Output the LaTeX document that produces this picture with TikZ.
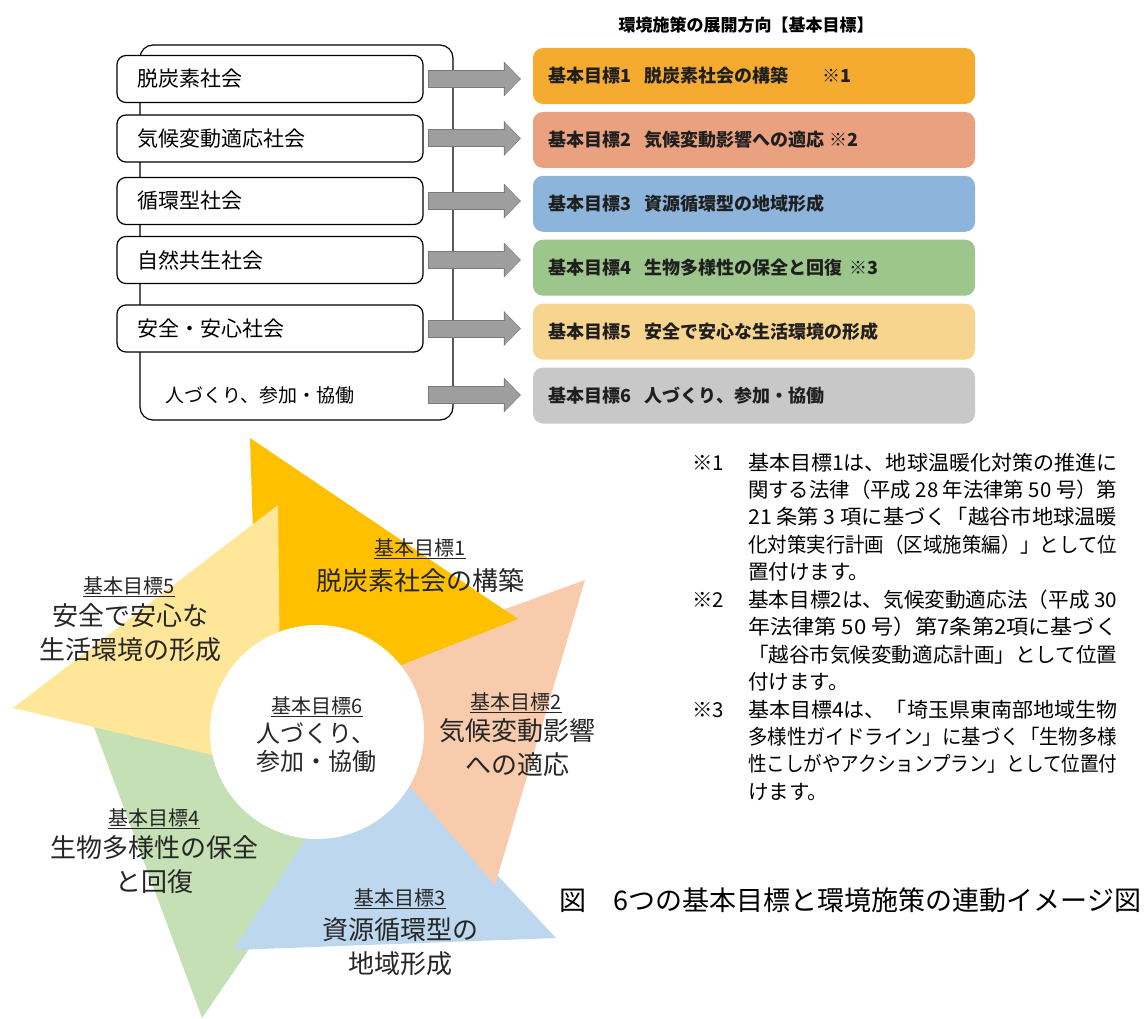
\documentclass[tikz,border=0pt]{standalone}
\usepackage{fontspec}
\setmainfont{Noto Sans CJK JP}
\usetikzlibrary{positioning,calc,arrows.meta}

\definecolor{carbon}{HTML}{F5AB30}
\definecolor{climate}{HTML}{E9A17F}
\definecolor{cycle}{HTML}{8DB4DA}
\definecolor{nature}{HTML}{9CC68B}
\definecolor{safety}{HTML}{F8D58F}
\definecolor{people}{HTML}{C8C8C8}
\definecolor{pcarbon}{HTML}{FFC000}
\definecolor{pclimate}{HTML}{F8CBAD}
\definecolor{pcycle}{HTML}{BDD7EE}
\definecolor{pnature}{HTML}{C5E0B4}
\definecolor{psafety}{HTML}{FFE699}
\definecolor{flowgray}{HTML}{9E9E9E}
\definecolor{flowedge}{HTML}{7A7A7A}

\newcommand{\noteline}[1]{\resizebox{369pt}{\height}{#1}}

\tikzset{
    flow/.style={draw=flowgray, line width=16pt, -{Triangle[length=15pt,width=32pt,line width=0pt]},
      shorten <=5pt, shorten >=13pt,
      preaction={draw=flowedge, line width=18pt, -{Triangle[length=17pt,width=35pt,line width=0pt]}, shorten <=4pt, shorten >=12pt}},
}

\begin{document}
\begin{tikzpicture}[x=1pt, y=-1pt,
  society/.style={draw, line width=1.2pt, rounded corners=9pt, fill=white, minimum height=47pt, text width=266pt, inner xsep=20pt, align=left, font=\fontsize{21}{24}\selectfont},
  goal/.style={fill=#1, rounded corners=10pt, minimum height=56pt, text width=412pt, inner xsep=15pt, align=left, text=black!88, font=\fontsize{18}{22}\selectfont\bfseries},
  pinhead/.style={inner sep=0pt, text=black!85, font=\fontsize{20}{24}\selectfont},
  pinbody/.style={inner sep=0pt, align=center, text=black!85, font=\fontsize{26}{34}\selectfont},
  notemark/.style={anchor=west, inner sep=0pt, font=\fontsize{20.5}{27.4}\selectfont},
  notetext/.style={anchor=north west, inner sep=0pt, align=left, font=\fontsize{20.5}{27.4}\selectfont}]
  \useasboundingbox (0,0) rectangle (1148,1019);

  % SOCIEDADES
  \draw[line width=1.2pt, rounded corners=13pt] (140,45) rectangle (453,420);
  \node[society] (soc1) at (270,79) {脱炭素社会};
  \node[society] (soc2) at (270,138.5) {気候変動適応社会};
  \node[society] (soc3) at (270,201) {循環型社会};
  \node[society] (soc4) at (270,260) {自然共生社会};
  \node[society] (soc5) at (270,328.5) {安全・安心社会};
  \node[anchor=west, font=\fontsize{19}{22}\selectfont] (soc6) at (162,395) {人づくり、参加・協働};

  \node[font=\fontsize{17}{20}\selectfont\bfseries] (title) at (746,25) {環境施策の展開方向【基本目標】};
  \node[goal=carbon] (goal1) at (754,76) {\makebox[97pt][l]{基本目標1}脱炭素社会の構築\hspace{34pt}※1};
  \node[goal=climate, below=7.5pt of goal1] (goal2) {\makebox[97pt][l]{基本目標2}気候変動影響への適応\hspace{5pt}※2};
  \node[goal=cycle, below=7.5pt of goal2] (goal3) {\makebox[97pt][l]{基本目標3}資源循環型の地域形成};
  \node[goal=nature, below=7.5pt of goal3] (goal4) {\makebox[97pt][l]{基本目標4}生物多様性の保全と回復\hspace{6pt}※3};
  \node[goal=safety, below=7.5pt of goal4] (goal5) {\makebox[97pt][l]{基本目標5}安全で安心な生活環境の形成};
  \node[goal=people, below=7.5pt of goal5] (goal6) {\makebox[97pt][l]{基本目標6}人づくり、参加・協働};

  \draw[flow] (soc1.east) -- (soc1.east -| goal1.west);
  \draw[flow] (soc2.east) -- (soc2.east -| goal2.west);
  \draw[flow] (soc3.east) -- (soc3.east -| goal3.west);
  \draw[flow] (soc4.east) -- (soc4.east -| goal4.west);
  \draw[flow] (soc5.east) -- (soc5.east -| goal5.west);
  \draw[flow] (soc6 -| soc5.east) -- (soc6 -| goal6.west);

  % NOTAS
  \node[notemark] (mark1) at (692,463) {※1};
  \node[notetext] (note1) at (748,452.5) {\noteline{基本目標1は、地球温暖化対策の推進に}\\
    \noteline{関する法律（平成 28 年法律第 50 号）第}\\
    \noteline{21 条第 3 項に基づく「越谷市地球温暖}\\
    \noteline{化対策実行計画（区域施策編）」として位}\\
    置付けます。};
  \node[notemark] (mark2) at (692,600) {※2};
  \node[notetext] (note2) at (748,589.5) {\noteline{基本目標2は、気候変動適応法（平成 30}\\
    \noteline{年法律第 50 号）第7条第2項に基づく}\\
    \noteline{「越谷市気候変動適応計画」として位置}\\
    付けます。};
  \node[notemark] (mark3) at (692,710) {※3};
  \node[notetext] (note3) at (748,699.5) {\noteline{基本目標4は、「埼玉県東南部地域生物}\\
    \noteline{多様性ガイドライン」に基づく「生物多様}\\
    \noteline{性こしがやアクションプラン」として位置付}\\
    けます。};

  % CICLO
  \fill[pnature] (202,1018) -- (92,722) -- (365,780) -- cycle;
  \fill[pcycle] (556,938) -- (233,950) -- (371,740) -- cycle;
  \fill[pclimate] (585,580) -- (495,885) -- (316,678) -- cycle;
  \fill[pcarbon] (250,438) -- (518,619) -- (259,721) -- cycle;
  \fill[psafety] (13,708) -- (278,505) -- (281,771) -- cycle;
  \node[circle, fill=white, minimum size=214pt, inner sep=0pt] (hub) at (317,732) {};

  \node[pinhead] (head1) at (420,549) {\underline{基本目標1}};
  \node[pinbody] (body1) at (420,581) {脱炭素社会の構築};
  \node[pinhead] (head2) at (516,703) {\underline{基本目標2}};
  \node[pinbody] (body2) at (517,748) {気候変動影響\\への適応};
  \node[pinhead] (head3) at (400,899) {\underline{基本目標3}};
  \node[pinbody] (body3) at (400,946.5) {資源循環型の\\地域形成};
  \node[pinhead] (head4) at (154,819) {\underline{基本目標4}};
  \node[pinbody] (body4) at (154,865) {生物多様性の保全\\と回復};
  \node[pinhead] (head5) at (129,587) {\underline{基本目標5}};
  \node[pinbody] (body5) at (130,633) {安全で安心な\\生活環境の形成};
  \node[pinhead] (head6) at (317,707) {\underline{基本目標6}};
  \node[pinbody, font=\fontsize{24}{28}\selectfont] (body6) at (316,748) {人づくり、\\参加・協働};

  \node[anchor=west, font=\fontsize{27}{30}\selectfont] (caption) at (556,900) {図　6つの基本目標と環境施策の連動イメージ図};
\end{tikzpicture}
\end{document}
